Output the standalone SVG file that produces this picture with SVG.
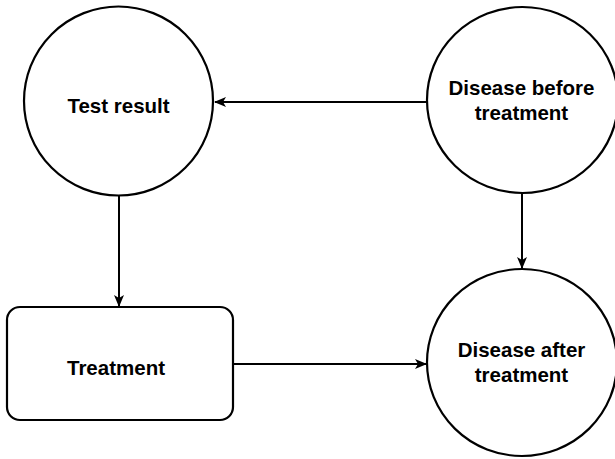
<svg xmlns="http://www.w3.org/2000/svg" width="615" height="459" viewBox="0 0 615 459">
<style>
.shape{fill:#fff;stroke:#000;stroke-width:2.2}
.lbl{font-family:"Liberation Sans",Arial,Helvetica,sans-serif;font-weight:bold;font-size:20.5px;fill:#000;text-anchor:middle}
.edge{fill:none;stroke:#000;stroke-width:2}
</style>
<defs>
<marker id="arr" markerWidth="12" markerHeight="10" viewBox="0 0 12 10" refX="11" refY="5" orient="auto" markerUnits="userSpaceOnUse">
<path d="M0,0 L12,5 L0,10 L3,5 Z" fill="#000"/>
</marker>
</defs>
<g id="connectors">
<line class="edge" x1="427" y1="102" x2="215" y2="102" marker-end="url(#arr)"/>
<line class="edge" x1="119" y1="195" x2="119" y2="306" marker-end="url(#arr)"/>
<line class="edge" x1="522" y1="193" x2="522" y2="268" marker-end="url(#arr)"/>
<line class="edge" x1="233" y1="364" x2="426" y2="364" marker-end="url(#arr)"/>
</g>
<g id="test-result">
<circle class="shape" cx="118.5" cy="101" r="94.5"/>
<text class="lbl" x="118.5" y="113">Test result</text>
</g>
<g id="disease-before">
<ellipse class="shape" cx="522.5" cy="100" rx="95.5" ry="93"/>
<text class="lbl" x="521.5" y="94.5">Disease before</text>
<text class="lbl" x="521.5" y="120">treatment</text>
</g>
<g id="treatment">
<rect class="shape" x="7" y="307" width="226" height="113" rx="13" ry="13"/>
<text class="lbl" x="116" y="375">Treatment</text>
</g>
<g id="disease-after">
<ellipse class="shape" cx="522" cy="362.5" rx="95" ry="93.5"/>
<text class="lbl" x="521.5" y="357">Disease after</text>
<text class="lbl" x="521.5" y="382">treatment</text>
</g>
</svg>
